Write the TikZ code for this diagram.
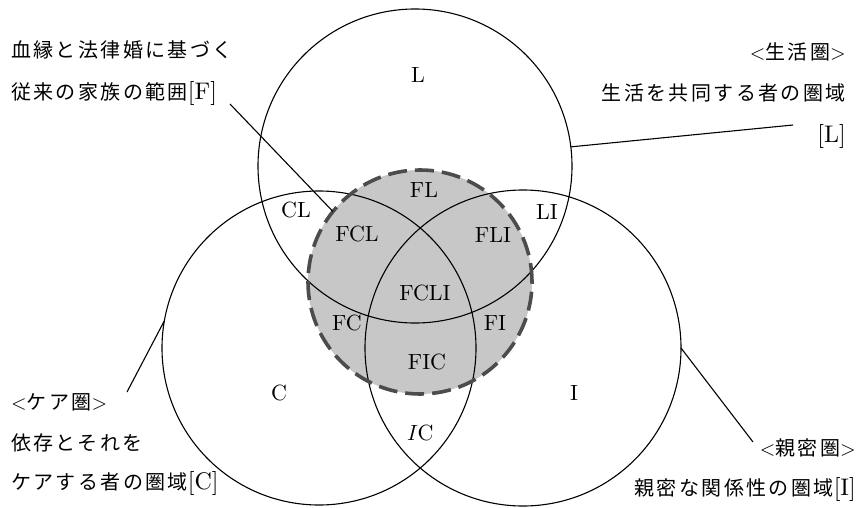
\documentclass[tikz,border=0pt]{standalone}
\usepackage{fontspec}
\setmainfont{lmroman10}[Extension=.otf,UprightFont=*-regular,ItalicFont=*-italic,BoldFont=*-bold]
\newfontfamily\cjk[LetterSpace=12]{Noto Sans CJK JP}
\newcommand\jp[1]{{\cjk #1}}
\newcommand\lt[1]{{\fontsize{24}{24}\selectfont #1}}
\begin{document}
\begin{tikzpicture}[x=1pt,y=-1pt,
  ring/.style={circle,draw=black,line width=1.1pt,minimum size=314pt,inner sep=0pt,outer sep=0pt},
  lab/.style={font=\fontsize{22}{24}\selectfont,inner sep=0pt},
  jtxt/.style={font=\fontsize{20}{24}\selectfont,inner sep=0pt,text height=17.6pt,text depth=2.4pt},
  leader/.style={draw=black,line width=1.1pt},
  fdash/.style={draw=black!70,line width=3.6pt,dash pattern=on 19pt off 8pt}]
\useasboundingbox (0,0) rectangle (862,508);
\fill[white] (0,0) rectangle (862,508);
% F region
\node[circle,fill=black!22,minimum size=224pt,inner sep=0pt,outer sep=0pt] (F) at (420,282) {};
% three circles
\node[ring] (Lc) at (415,166) {};
\node[ring] (Cc) at (319,348) {};
\node[ring,minimum size=316pt] (Ic) at (523,348) {};
\draw[fdash] (F.center) circle (112pt);
% region labels
\node[lab] (lL) at (418,75) {L};
\node[lab] (lCL) at (296,210) {CL};
\node[lab] (lLI) at (547,212) {LI};
\node[lab] (lFL) at (424,190) {FL};
\node[lab] (lFCL) at (357,234) {FCL};
\node[lab] (lFLI) at (493,235) {FLI};
\node[lab] (lFCLI) at (425,293) {FCLI};
\node[lab] (lFC) at (347,323) {FC};
\node[lab] (lFI) at (495,323) {FI};
\node[lab] (lFIC) at (427,362) {FIC};
\node[lab] (lIC) at (420,433) {\textit{I}C};
\node[lab] (lC) at (279,393) {C};
\node[lab] (lI) at (574,393) {I};
% texts
\node[jtxt,anchor=west] (t1a) at (11,50) {\jp{血縁と法律婚に基づく}};
\node[jtxt,anchor=west] (t1b) at (11,92) {\jp{従来の家族の範囲}\lt{[F]}};
\node[jtxt,anchor=east] (t2a) at (846,52) {<\jp{生活圏}>};
\node[jtxt,anchor=east] (t2b) at (846,93) {\jp{生活を共同する者の圏域}};
\node[jtxt,anchor=east] (t2c) at (846,135) {\lt{[L]}};
\node[jtxt,anchor=west] (t3a) at (11,402) {<\jp{ケア圏}>};
\node[jtxt,anchor=west] (t3b) at (11,443) {\jp{依存とそれを}};
\node[jtxt,anchor=west] (t3c) at (11,482) {\jp{ケアする者の圏域}\lt{[C]}};
\node[jtxt,anchor=east] (t4a) at (856,448) {<\jp{親密圏}>};
\node[jtxt,anchor=east] (t4b) at (856,488) {\jp{親密な関係性の圏域}\lt{[I]}};
% leaders
\coordinate (fEnd) at (230,104);
\coordinate (lEnd) at (793,125);
\coordinate (cEnd) at (127,392);
\coordinate (iEnd) at (753,442);
\draw[leader] (fEnd) -- (F.141.3);
\draw[leader] (Lc.7.7) -- (lEnd);
\draw[leader] (Cc.170.5) -- (cEnd);
\draw[leader] (Ic.-0.4) -- (iEnd);
\end{tikzpicture}
\end{document}
